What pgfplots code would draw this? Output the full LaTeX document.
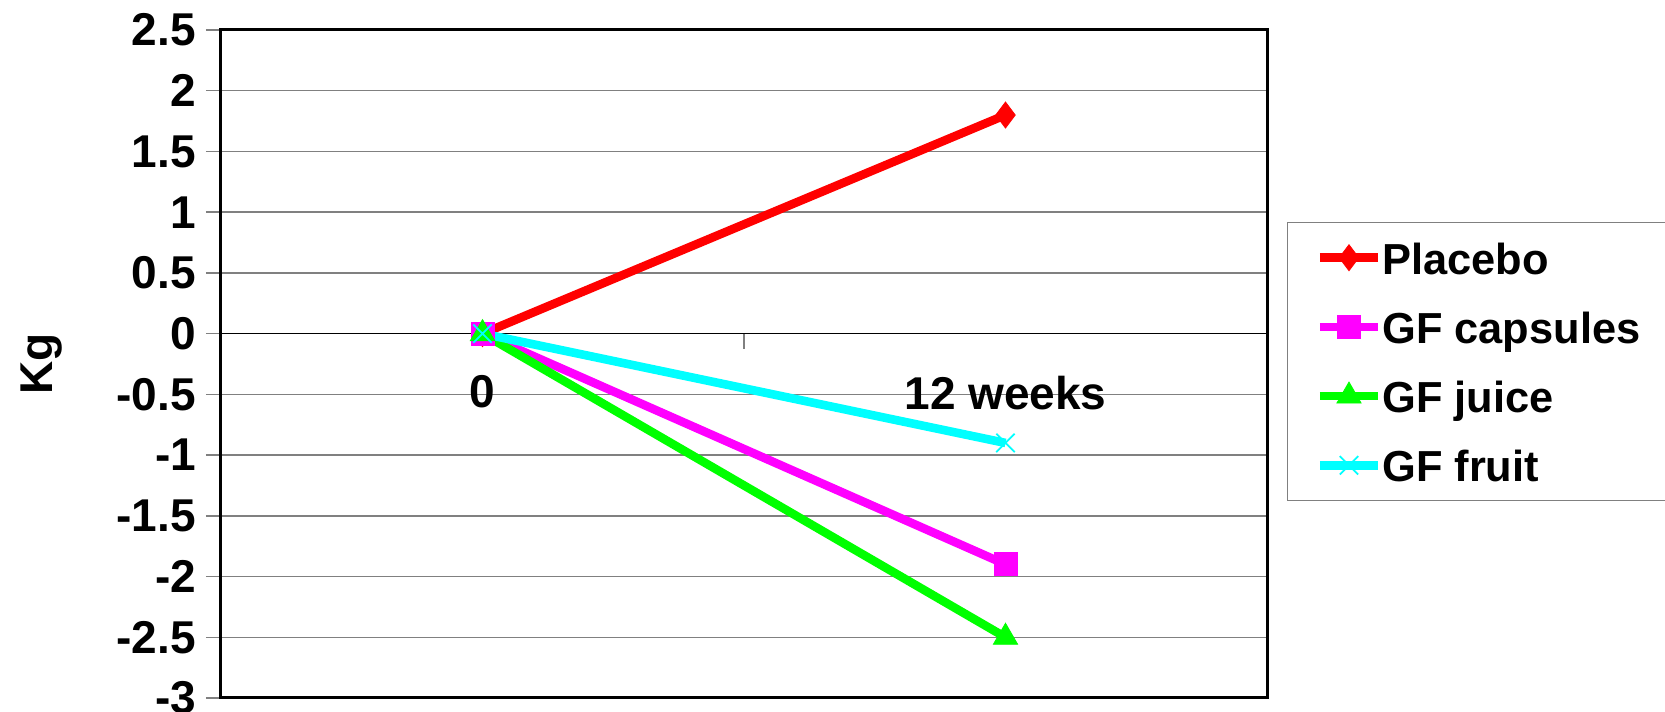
\documentclass[border=0pt]{standalone}
\usepackage{fontspec}
\setmainfont{Liberation Sans}
\usepackage{pgfplots}
\pgfplotsset{compat=1.18}

\definecolor{gridgray}{HTML}{808080}
\definecolor{placebo}{RGB}{255,0,0}
\definecolor{capsules}{RGB}{255,0,255}
\definecolor{juice}{RGB}{0,255,0}
\definecolor{fruit}{RGB}{0,255,255}
\newcommand{\chartfont}{\bfseries\fontsize{23}{27.6}\selectfont}
\newcommand{\legendfont}{\bfseries\fontsize{21.7}{26}\selectfont}

\begin{document}
\begin{tikzpicture}[font=\chartfont]
\useasboundingbox (0,0) rectangle (832.5pt,356pt);
\begin{axis}[
  at={(110.5pt,7pt)}, anchor=south west,
  scale only axis, width=523pt, height=334pt,
  xmin=-0.5, xmax=1.5, ymin=-3, ymax=2.5,
  axis x line=middle, axis y line=left,
  every inner x axis line/.append style={-},
  every outer y axis line/.append style={-},
  x axis line style={-, black, line width=0.7pt},
  y axis line style={-, black, line width=1.5pt},
  hide obscured x ticks=false, hide obscured y ticks=false,
  /pgf/number format/assume math mode=true,
  tick label style={font=\chartfont},
  xtick={0,1}, xticklabels={0,12 weeks},
  minor xtick={0.5},
  major x tick style={draw=none},
  minor x tick style={draw=gridgray, line width=0.7pt},
  minor tick length=7.5pt,
  xtick align=outside,
  xticklabel style={anchor=north, yshift=-10pt},
  ytick={-3,-2.5,-2,-1.5,-1,-0.5,0,0.5,1,1.5,2,2.5},
  ytick align=outside, ytick pos=left,
  yticklabel style={xshift=-1.5pt},
  major y tick style={draw=gridgray, line width=0.7pt},
  major tick length=7.5pt,
  ymajorgrids, major grid style={gridgray, line width=0.7pt},
  ylabel={Kg},
  ylabel style={at={(axis description cs:-0.172,0.5)}, anchor=center, font=\chartfont},
  clip=false,
  legend image code/.code={%
    \draw[mark repeat=2, mark phase=2, #1]
      plot coordinates {(0pt,0pt) (14.5pt,0pt) (29pt,0pt)};},
  legend cell align=left,
  legend style={at={(1.0191,0.7126)}, anchor=north west,
    draw=gridgray, line width=0.7pt,
    inner xsep=14pt, inner ysep=6.5pt, row sep=12.6pt,
    nodes={inner sep=0pt, text height=19.3pt, text depth=2.7pt, font=\legendfont}},
]
% plot frame
\draw[black, line width=1.5pt] (rel axis cs:0,0) rectangle (rel axis cs:1,1);

\addplot[placebo, line width=4.3pt, mark=diamond*, mark size=6.5pt,
  mark options={solid, line width=0.4pt}]
  coordinates {(0,0) (1,1.8)};
\addlegendentry{\makebox[150pt][l]{Placebo}}

\addplot[capsules, line width=4.3pt, mark=square*, mark size=5.75pt,
  mark options={solid, line width=0.4pt}]
  coordinates {(0,0) (1,-1.9)};
\addlegendentry{\makebox[150pt][l]{GF capsules}}

\addplot[juice, line width=4.3pt, mark=triangle*, mark size=7pt,
  mark options={solid, line width=0.4pt}]
  coordinates {(0,0) (1,-2.5)};
\addlegendentry{\makebox[150pt][l]{GF juice}}

\addplot[fruit, line width=4.3pt, mark=x, mark size=6.5pt,
  mark options={solid, line width=0.9pt}]
  coordinates {(0,0) (1,-0.9)};
\addlegendentry{\makebox[150pt][l]{GF fruit}}
\end{axis}
\end{tikzpicture}
\end{document}
